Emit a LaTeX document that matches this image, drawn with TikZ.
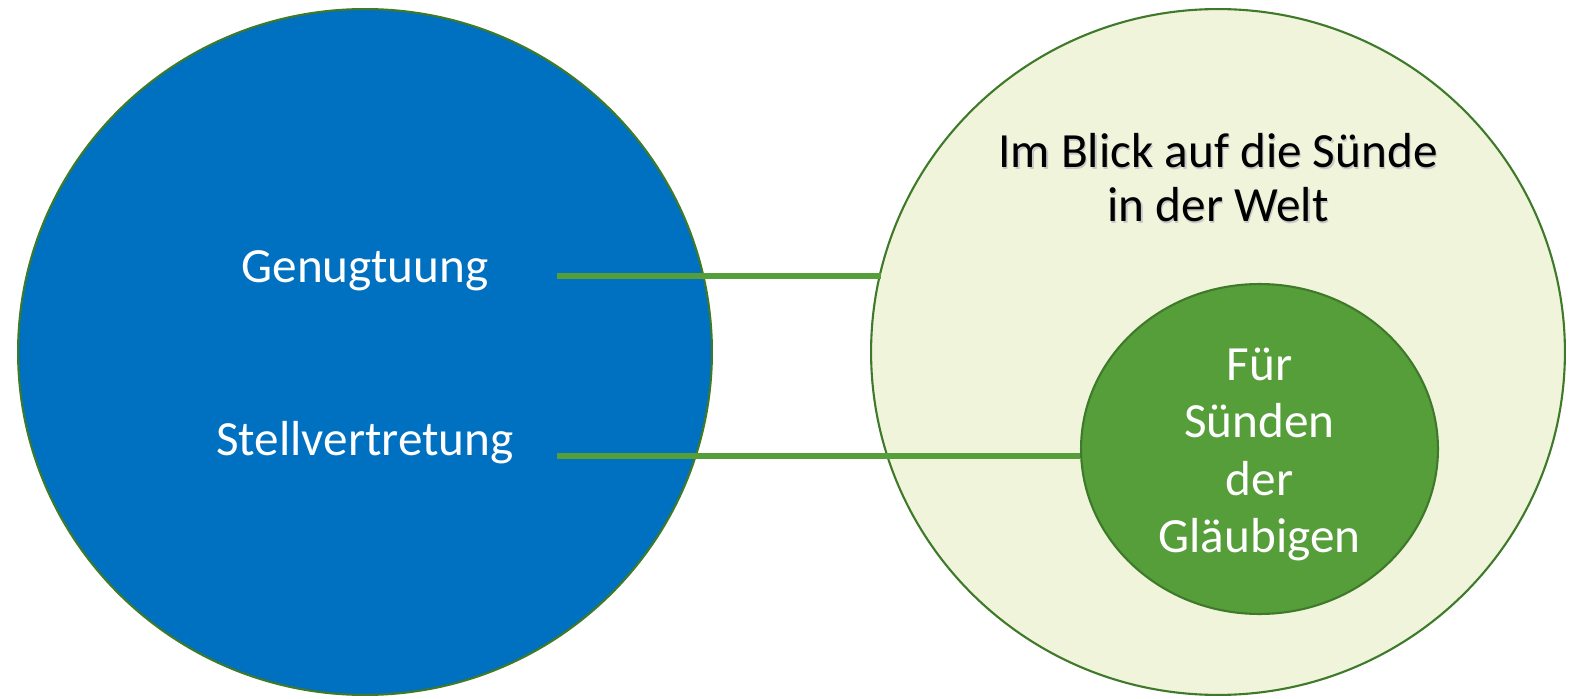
\documentclass[tikz,border=0pt]{standalone}
\usepackage{fontspec}
\setmainfont{Carlito}
\definecolor{blueC}{HTML}{0070C0}
\definecolor{paleC}{HTML}{F0F4DA}
\definecolor{greenC}{HTML}{559E3A}
\definecolor{edgeC}{HTML}{3E7A2A}
\usetikzlibrary{shapes.geometric}
\tikzset{
  bigcirc/.style={ellipse, draw=edgeC, line width=1.2pt, inner sep=0pt},
  linkline/.style={draw=greenC, line width=3.4pt},
  wlabel/.style={text=white, font=\fontsize{28}{32}\selectfont, anchor=base, inner sep=0pt},
  blabel/.style={text=black, font=\fontsize{28}{32}\selectfont, anchor=base, inner sep=0pt},
  slabel/.style={text=black!22, font=\fontsize{28}{32}\selectfont, anchor=base, inner sep=0pt},
}
\begin{document}
\begin{tikzpicture}[x=0.02cm, y=-0.02cm]
\useasboundingbox (0,0) rectangle (1573,699);
% left circle
\node[bigcirc, fill=blueC, minimum width=13.88cm, minimum height=13.72cm] (left) at (365,352) {};
% right circle
\node[bigcirc, fill=paleC, minimum width=13.88cm, minimum height=13.72cm] (right) at (1218,352) {};
% inner ellipse
\node[bigcirc, fill=greenC, minimum width=7.14cm, minimum height=6.6cm] (inner) at (1259.5,449) {};
% connectors
\coordinate (g1) at (557,276);
\coordinate (g2) at (881,276);
\coordinate (s1) at (557,456);
\draw[linkline] (g1) -- (g2);
\draw[linkline] (s1) -- (s1 -| inner.west);
% left labels
\node[wlabel] (gen) at (365,283) {Genugtuung};
\node[wlabel] (stv) at (365,455) {Stellvertretung};
% right top labels with shadow
\node[slabel] at (1219.3,169.3) {Im Blick auf die Sünde};
\node[slabel] at (1219.3,223.3) {in der Welt};
\node[blabel] (t1) at (1218,168) {Im Blick auf die Sünde};
\node[blabel] (t2) at (1218,222) {in der Welt};
% inner labels
\node[wlabel] (f1) at (1259.5,380) {Für};
\node[wlabel] (f2) at (1259.5,438) {Sünden};
\node[wlabel] (f3) at (1259.5,495) {der};
\node[wlabel] (f4) at (1259.5,552) {Gläubigen};
\end{tikzpicture}
\end{document}
